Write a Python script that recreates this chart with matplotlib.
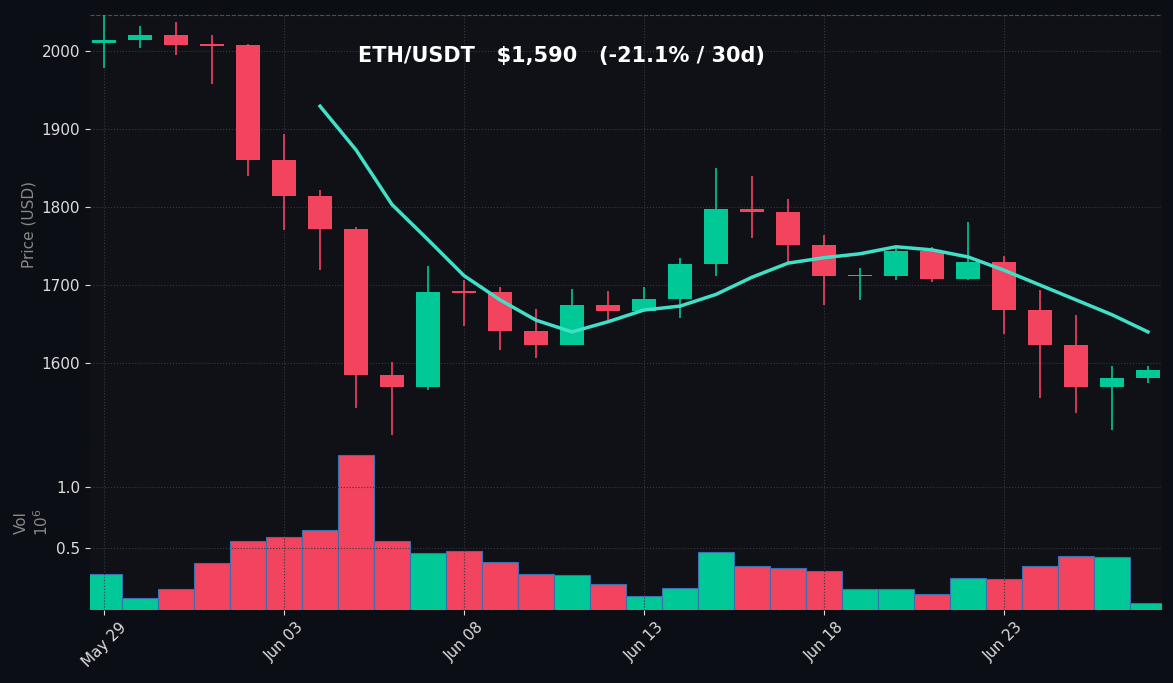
import matplotlib
matplotlib.use("Agg")
import matplotlib.pyplot as plt
import numpy as np
import pandas as pd

dates = pd.date_range("2023-05-29", periods=30, freq="D")
opens  = [2010,2014,2020,2008,2007,1860,1814,1772,1585,1570,1692,1691,1641,1623,1674,1667,1682,1727,1797,1794,1751,1711,1712,1744,1708,1730,1668,1623,1569,1581]
closes = [2014,2020,2007,2006,1860,1814,1772,1585,1570,1691,1690,1641,1623,1674,1667,1682,1727,1797,1794,1751,1712,1713,1744,1708,1730,1668,1623,1569,1581,1591]
highs  = [2046,2031,2037,2020,2008,1894,1822,1774,1601,1724,1706,1697,1669,1695,1692,1697,1735,1850,1840,1810,1764,1722,1749,1749,1781,1737,1694,1662,1596,1596]
lows   = [1978,2004,1995,1958,1840,1770,1719,1542,1508,1565,1647,1617,1606,1623,1655,1667,1658,1712,1760,1729,1674,1681,1707,1704,1707,1637,1555,1536,1514,1574]
ma_vals = [1929,1873,1803,1758,1712,1681,1655,1640,1653,1668,1673,1688,1710,1728,1735,1740,1749,1745,1736,1719,1700,1681,1662,1640]
volume_m = [0.29,0.10,0.17,0.38,0.56,0.59,0.65,1.26,0.56,0.46,0.48,0.39,0.29,0.28,0.21,0.11,0.18,0.47,0.36,0.34,0.32,0.17,0.17,0.13,0.26,0.25,0.36,0.44,0.43,0.06]

UP, DN = "#00c896", "#f2435f"
BG, FBG = "#0f1117", "#0b0e14"

fig = plt.figure(figsize=(11.73, 6.83), dpi=100, facecolor=FBG)
ax = fig.add_axes([90/1173, 1-435/683, 1072/1173, 421/683], facecolor=BG)
av = fig.add_axes([90/1173, 1-610/683, 1072/1173, 175/683], facecolor=BG, sharex=ax)

x = np.arange(len(dates))
for i in x:
    o, c, h, l = opens[i], closes[i], highs[i], lows[i]
    col = UP if c >= o else DN
    ax.vlines(i, l, h, color=col, lw=1.2, zorder=2)
    ax.bar(i, max(abs(c-o), 1.5), bottom=min(o, c), width=0.65, color=col, zorder=3)
ax.plot(x[6:], ma_vals, color="#40e0c8", lw=2.5, zorder=4)
ax.axhline(max(highs), color=DN, ls="--", lw=0.8, alpha=0.6)
ax.axhline(min(lows), color=UP, ls="--", lw=0.8, alpha=0.6)
ax.set_ylim(min(lows), max(highs)+1)
ax.set_yticks([1600,1700,1800,1900,2000])
ax.set_ylabel("Price (USD)", color="#888888", fontsize=11)
ax.text(0.44, 0.9, "ETH/USDT   $1,590   (-21.1% / 30d)", transform=ax.transAxes,
        ha="center", va="center", color="white", fontsize=15, fontweight="bold")

vcols = [UP if closes[i] >= opens[i] else DN for i in x]
av.bar(x, volume_m, width=1.0, color=vcols, edgecolor="#3a6fb0", lw=0.8)
av.set_ylim(0, 1.42)
av.set_yticks([0.5, 1.0])
av.set_ylabel("Vol\n$10^{6}$", color="#888888", fontsize=11)

for a in (ax, av):
    a.grid(True, color="#333842", ls=":", lw=0.8)
    a.tick_params(colors="#dddddd", labelsize=11)
    for s in a.spines.values():
        s.set_visible(False)
ax.tick_params(axis="x", labelbottom=False, length=0)
ticks = [0,5,10,15,20,25]
av.set_xticks(ticks)
av.set_xticklabels([dates[i].strftime("%b %d") for i in ticks], rotation=45)
ax.set_xlim(-0.39, 29.39)
fig.savefig("out.png", dpi=100, facecolor=FBG)
